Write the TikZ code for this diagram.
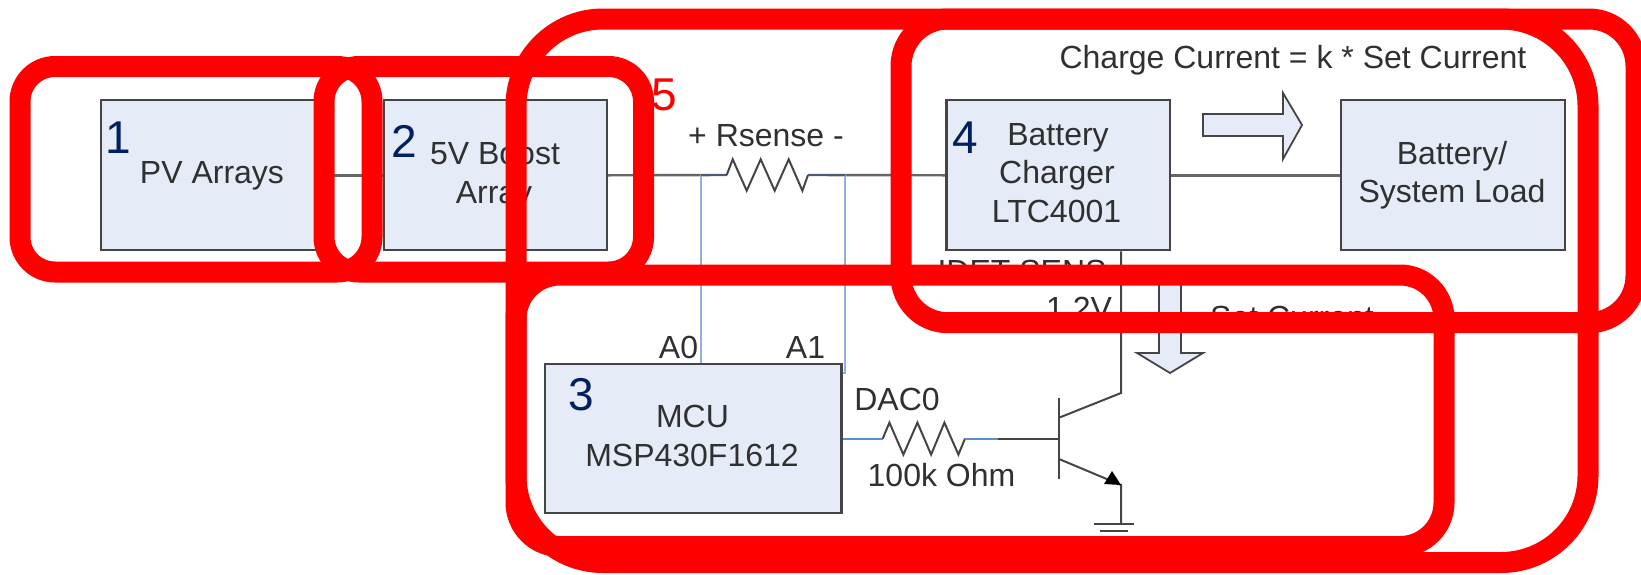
\documentclass[tikz,border=0pt]{standalone}
\usepackage{fontspec}
\setmainfont{Liberation Sans}
\definecolor{boxfill}{HTML}{E6ECF7}
\definecolor{boxline}{HTML}{454545}
\definecolor{wiregray}{HTML}{666666}
\definecolor{wireblue}{HTML}{8FB0E0}
\definecolor{wireblued}{HTML}{5B8BD0}
\definecolor{txt}{HTML}{303030}
\definecolor{navy}{HTML}{002060}
\tikzset{
  blockbox/.style={draw=boxline,fill=boxfill,line width=1.1pt,inner sep=0pt,minimum height=75pt},
  lbl/.style={anchor=base,inner sep=0pt,text=txt,font=\fontsize{16}{16}\selectfont},
  digit/.style={inner sep=0pt,text=navy,font=\fontsize{23}{23}\selectfont},
  wire/.style={draw=wiregray,line width=1.2pt},
  bluew/.style={draw=wireblue,line width=1.1pt},
  bluewd/.style={draw=wireblued,line width=0.9pt},
  blk/.style={draw=boxline,line width=1pt,line join=miter},
  fatarrow/.style={draw=boxline,fill=boxfill,line width=0.9pt,line join=miter},
  ring/.style={draw=red,line width=10.5pt}
}
\begin{document}
\begin{tikzpicture}[x=0.5pt,y=-0.5pt]
\useasboundingbox (0,0) rectangle (1641,574);
\coordinate (r1a) at (726.7,175);
\coordinate (r1b) at (808,175);
\coordinate (tapA) at (701,175);
\coordinate (tapB) at (845,175);
\coordinate (dacA) at (882.7,438.6);
\coordinate (dacB) at (965,438.6);
\coordinate (baseMid) at (998,438.6);
\coordinate (baseT) at (1059,438.6);
\coordinate (barTop) at (1059,397.7);
\coordinate (barBot) at (1059,479);
\coordinate (colIn) at (1059,417.7);
\coordinate (colOut) at (1121,393);
\coordinate (emIn) at (1059,459);
\coordinate (emOut) at (1121,485);
\coordinate (gnd) at (1121,524);

\node[blockbox,minimum width=107.5pt] (pv) at (208.5,175.3) {};
\node[blockbox,minimum width=111.5pt] (boost) at (495.5,175.3) {};
\node[blockbox,minimum width=148.25pt,minimum height=74.5pt] (mcu) at (693.25,438.8) {};
\node[blockbox,minimum width=111.75pt] (chg) at (1058.25,175.3) {};
\node[blockbox,minimum width=112pt] (load) at (1453,175.3) {};

\draw[wire] (pv.east) -- (boost.west);
\draw[wire] (boost.east) -- (r1a);
\draw[wire] (r1b) -- (chg.west);
\draw[wire] (chg.east) -- (load.west);

% sense resistor
\draw[blk] (r1a)
  -- ++(6,-15.7) -- ++(14,31.4) -- ++(14,-31.4) -- ++(14,31.4) -- ++(14,-31.4) -- ++(13.7,31.4) -- (r1b);
% sense taps
\draw[bluew] (mcu.north -| tapA) -- (tapA);
\draw[bluew] (tapB) -- (845,372.7) -- (mcu.east |- 0,372.7);
\draw[wire,draw=boxline!70!wireblued] (tapA) -- (r1a);
\draw[wire,draw=boxline!70!wireblued] (r1b) -- (tapB);

% DAC resistor
\draw[bluewd] (mcu.east |- dacA) -- (dacA);
\draw[blk] (dacA)
  -- ++(6.7,-16) -- ++(14,32) -- ++(14,-32) -- ++(13.7,32) -- ++(13.3,-32) -- ++(14,32) -- (dacB);
\draw[bluewd] (dacB) -- (baseMid);
\draw[blk] (baseMid) -- (baseT);

% transistor
\draw[blk] (barTop) -- (barBot);
\draw[blk] (colIn) -- (colOut) -- (chg.south -| colOut);
\draw[blk] (emIn) -- (emOut) -- (gnd);
\fill[black] (emOut) -- (1104,484) -- (1112,471) -- cycle;
\draw[blk] (1094,524) -- (1134,524);
\draw[blk] (1100,531) -- (1128,531);
\draw[blk] (1108,538) -- (1120,538);

% fat arrows
\draw[fatarrow] (1203,114) -- (1283,114) -- (1283,93) -- (1302,125) -- (1283,159) -- (1283,136) -- (1203,136) -- cycle;
\draw[fatarrow] (1159,270) -- (1159,353) -- (1137,353) -- (1170,373) -- (1203,353) -- (1181,353) -- (1181,270) -- cycle;

% labels
\node[lbl] (t1) at (212,183) {PV Arrays};
\node[lbl] (t2) at (495,164) {5V Boost};
\node[lbl] (t3) at (494,203) {Array};
\node[lbl] (t4) at (1058,145) {Battery};
\node[lbl] (t5) at (1057,183) {Charger};
\node[lbl] (t6) at (1056.5,222) {LTC4001};
\node[lbl] (t7) at (1452,164) {Battery/};
\node[lbl] (t8) at (1452,202) {System Load};
\node[lbl] (t9) at (1293,68) {Charge Current = k * Set Current};
\node[lbl] (t10) at (766,146.7) {+ Rsense -};
\node[lbl] (t11) at (678.5,358) {A0};
\node[lbl] (t12) at (805.5,358) {A1};
\node[lbl] (t13) at (692.5,427) {MCU};
\node[lbl] (t14) at (692,466.7) {MSP430F1612};
\node[lbl] (t15) at (897,410) {DAC0};
\node[lbl] (t16) at (941.5,486) {100k Ohm};
\node[lbl] (t17) at (1079,319) {1.2V};
\node[lbl] (t18) at (1022,282) {IDET SENS};
\node[lbl] (t19) at (1292,328) {Set Current};

\node[digit] (d1) at (118,138) {1};
\node[digit] (d2) at (404,141) {2};
\node[digit] (d3) at (581,394.5) {3};
\node[digit] (d4) at (965,138) {4};
\node[digit,text=red] (d5) at (664,95) {5};

% red outlines
\draw[ring,rounded corners=17.5pt] (20,66.5) rectangle (372,272);
\draw[ring,rounded corners=17.5pt] (324,66.5) rectangle (643.5,272);
\draw[ring,rounded corners=43.5pt] (516,19) rectangle (1588,562.5);
\draw[ring,rounded corners=23.5pt] (901,19) rectangle (1636,322.7);
\draw[ring,rounded corners=22pt] (516,275) rectangle (1444,546.5);
\end{tikzpicture}
\end{document}
